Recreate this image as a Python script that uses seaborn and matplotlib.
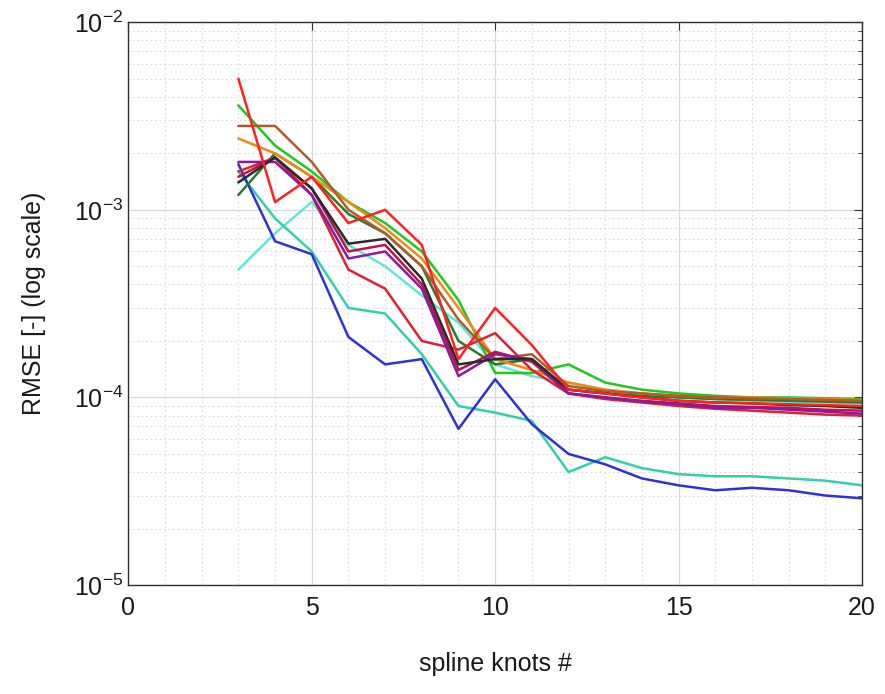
import numpy as np
import pandas as pd
import seaborn as sns
import matplotlib
matplotlib.use("Agg")
import matplotlib.pyplot as plt
from matplotlib.ticker import LogLocator, FixedLocator, MultipleLocator, NullFormatter

# Number of spline knots
knots = list(range(3, 21))

# RMSE per fitted curve
rmse_red_a = [5.0e-3, 1.1e-3, 1.5e-3, 8.5e-4, 1.0e-3, 6.5e-4, 1.6e-4, 3.0e-4, 1.9e-4,
              1.1e-4, 1.05e-4, 1.0e-4, 9.6e-5, 9.4e-5, 9.3e-5, 9.2e-5, 9.1e-5, 9.0e-5]
rmse_brown = [2.8e-3, 2.8e-3, 1.8e-3, 1.0e-3, 7.5e-4, 5.0e-4, 2.6e-4, 1.6e-4, 1.7e-4,
              1.15e-4, 1.08e-4, 1.05e-4, 1.02e-4, 1.0e-4, 9.9e-5, 9.8e-5, 9.7e-5, 9.6e-5]
rmse_orange = [2.4e-3, 2.0e-3, 1.5e-3, 1.1e-3, 8.0e-4, 5.5e-4, 3.0e-4, 1.6e-4, 1.4e-4,
               1.2e-4, 1.1e-4, 1.05e-4, 1.02e-4, 1.0e-4, 1.0e-4, 9.9e-5, 9.8e-5, 9.7e-5]
rmse_green = [3.6e-3, 2.2e-3, 1.6e-3, 1.1e-3, 8.5e-4, 6.0e-4, 3.3e-4, 1.35e-4, 1.35e-4,
              1.5e-4, 1.2e-4, 1.1e-4, 1.05e-4, 1.02e-4, 1.0e-4, 1.0e-4, 9.9e-5, 9.8e-5]
rmse_dkgreen = [1.2e-3, 2.0e-3, 1.5e-3, 9.5e-4, 7.5e-4, 5.0e-4, 2.0e-4, 1.5e-4, 1.6e-4,
                1.1e-4, 1.05e-4, 1.02e-4, 1.0e-4, 9.8e-5, 9.7e-5, 9.6e-5, 9.5e-5, 9.4e-5]
rmse_black = [1.4e-3, 1.9e-3, 1.3e-3, 6.6e-4, 7.0e-4, 4.3e-4, 1.5e-4, 1.6e-4, 1.6e-4,
              1.1e-4, 1.05e-4, 1.0e-4, 9.6e-5, 9.4e-5, 9.3e-5, 9.1e-5, 9.0e-5, 8.8e-5]
rmse_purple = [1.8e-3, 1.8e-3, 1.2e-3, 5.5e-4, 6.0e-4, 3.8e-4, 1.3e-4, 1.7e-4, 1.6e-4,
               1.05e-4, 1.0e-4, 9.5e-5, 9.2e-5, 8.8e-5, 8.8e-5, 8.6e-5, 8.4e-5, 8.2e-5]
rmse_crimson = [1.5e-3, 1.9e-3, 1.3e-3, 6.0e-4, 6.5e-4, 4.0e-4, 1.4e-4, 1.75e-4, 1.55e-4,
                1.05e-4, 1.0e-4, 9.6e-5, 9.3e-5, 9.0e-5, 8.9e-5, 8.8e-5, 8.6e-5, 8.5e-5]
rmse_red_b = [1.6e-3, 1.9e-3, 1.2e-3, 4.8e-4, 3.8e-4, 2.0e-4, 1.8e-4, 2.2e-4, 1.4e-4,
              1.05e-4, 9.8e-5, 9.4e-5, 9.0e-5, 8.7e-5, 8.5e-5, 8.3e-5, 8.1e-5, 8.0e-5]
rmse_cyan_a = [4.8e-4, 7.5e-4, 1.1e-3, 6.5e-4, 5.0e-4, 3.5e-4, 2.5e-4, 1.5e-4, 1.3e-4,
               1.2e-4, 1.1e-4, 1.05e-4, 1.0e-4, 9.8e-5, 9.6e-5, 9.5e-5, 9.4e-5, 9.3e-5]
rmse_cyan_b = [1.6e-3, 9.0e-4, 6.0e-4, 3.0e-4, 2.8e-4, 1.7e-4, 9.0e-5, 8.3e-5, 7.5e-5,
               4.0e-5, 4.8e-5, 4.2e-5, 3.9e-5, 3.8e-5, 3.8e-5, 3.7e-5, 3.6e-5, 3.4e-5]
rmse_blue = [1.75e-3, 6.8e-4, 5.8e-4, 2.1e-4, 1.5e-4, 1.6e-4, 6.8e-5, 1.25e-4, 7.2e-5,
             5.0e-5, 4.4e-5, 3.7e-5, 3.4e-5, 3.2e-5, 3.3e-5, 3.2e-5, 3.0e-5, 2.9e-5]

series = {
    "cyan_a": rmse_cyan_a,
    "cyan_b": rmse_cyan_b,
    "blue": rmse_blue,
    "green": rmse_green,
    "dkgreen": rmse_dkgreen,
    "orange": rmse_orange,
    "brown": rmse_brown,
    "red_b": rmse_red_b,
    "crimson": rmse_crimson,
    "purple": rmse_purple,
    "black": rmse_black,
    "red_a": rmse_red_a,
}
palette = {
    "cyan_a": "#5ee8d8",
    "cyan_b": "#30d0a8",
    "blue": "#3030d8",
    "green": "#1ec81e",
    "dkgreen": "#2a7a2a",
    "orange": "#f08a10",
    "brown": "#b05a2a",
    "red_b": "#e02030",
    "crimson": "#c0104a",
    "purple": "#8a1aa0",
    "black": "#2a2a2a",
    "red_a": "#ff2020",
}

df = pd.DataFrame(
    [(k, v, name) for name, vals in series.items() for k, v in zip(knots, vals)],
    columns=["knots", "rmse", "curve"],
)

sns.set_style("white")
plt.rcParams["font.family"] = ["Liberation Sans", "DejaVu Sans"]
plt.rcParams["mathtext.default"] = "regular"

fig = plt.figure(figsize=(8.85, 6.94), dpi=100)
ax = fig.add_axes([0.145, 0.157, 0.829, 0.811])

sns.lineplot(data=df, x="knots", y="rmse", hue="curve", palette=palette,
             hue_order=list(series.keys()), linewidth=1.8, legend=False, ax=ax,
             estimator=None, sort=False)

ax.set_yscale("log")
ax.set_xlim(0, 20)
ax.set_ylim(1e-5, 1e-2)

ax.xaxis.set_major_locator(FixedLocator([0, 5, 10, 15, 20]))
ax.xaxis.set_minor_locator(MultipleLocator(1))
ax.yaxis.set_major_locator(FixedLocator([1e-5, 1e-4, 1e-3, 1e-2]))
ax.yaxis.set_minor_locator(LogLocator(base=10, subs=np.arange(2, 10)))
ax.yaxis.set_minor_formatter(NullFormatter())
ax.set_yticklabels([r"$10^{-5}$", r"$10^{-4}$", r"$10^{-3}$", r"$10^{-2}$"])

ax.grid(True, which="major", color="#d8d8d8", linewidth=0.9, linestyle="-")
ax.grid(True, which="minor", color="#dadada", linewidth=0.8, linestyle=(0, (1.5, 2.5)))
ax.set_axisbelow(True)

for s in ax.spines.values():
    s.set_color("#303030")
    s.set_linewidth(1.0)

ax.tick_params(which="both", direction="in", top=True, right=True,
               colors="#303030", labelcolor="#1a1a1a", labelsize=18)
ax.tick_params(which="major", length=6)
ax.tick_params(which="minor", length=3)
ax.tick_params(axis="x", which="minor", length=0)
ax.tick_params(axis="x", pad=8)

ax.set_xlabel("spline knots #", fontsize=18, color="#1a1a1a", labelpad=23)
ax.set_ylabel("RMSE [-] (log scale)", fontsize=18, color="#1a1a1a", labelpad=20)

fig.savefig("out.png", dpi=100)
